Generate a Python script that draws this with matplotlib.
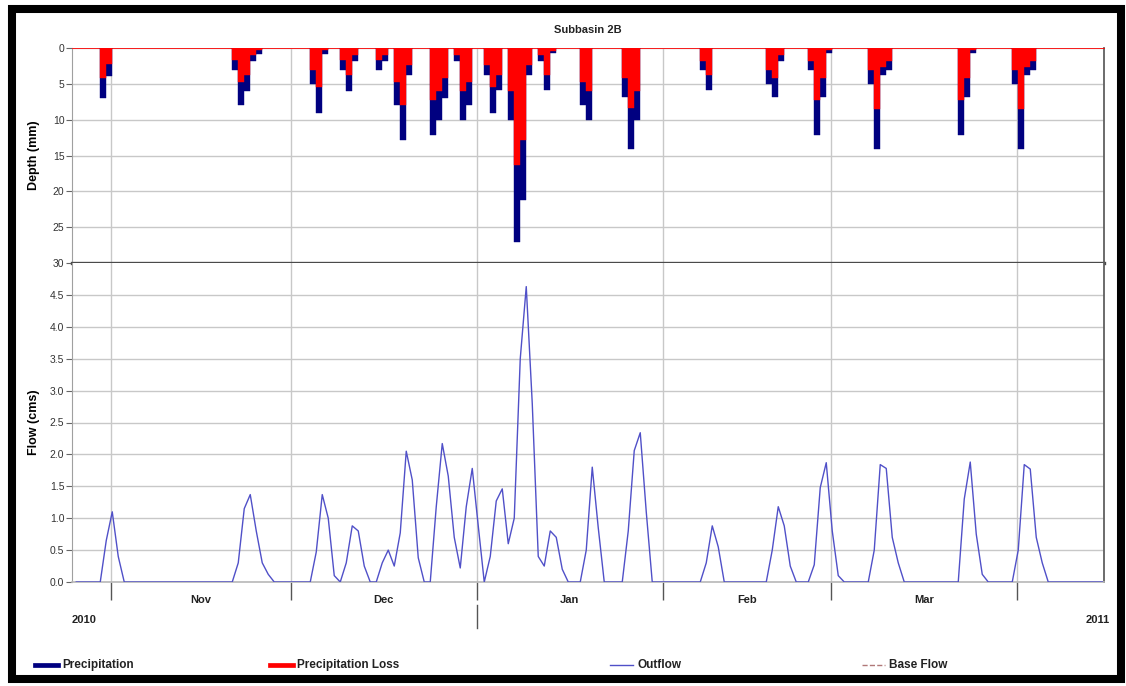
import matplotlib.pyplot as plt
import matplotlib.dates as mdates
import matplotlib.transforms as mtransforms
from matplotlib.lines import Line2D
from matplotlib.patches import Rectangle
import pandas as pd

plt.rcParams['font.family'] = ['Liberation Sans', 'DejaVu Sans']

W, H = 1126, 686

# осадки: номер дня после 1 ноября 2010 (конец суточного интервала), мм
precip_day = [-1, 0, 21, 22, 23, 24, 25, 34, 35, 36, 39, 40, 41, 45, 46,
              48, 49, 50, 54, 55, 56, 58, 59, 60, 63, 64, 65, 67, 68, 69, 70,
              72, 73, 74, 79, 80, 86, 87, 88, 99, 100, 110, 111, 112,
              117, 118, 119, 120, 127, 128, 129, 130, 142, 143, 144,
              151, 152, 153, 154]
precip_mm = [7.0, 3.9, 3.0, 8.0, 6.0, 1.8, 0.8, 5.0, 9.0, 0.8, 3.0, 6.0, 1.8, 3.0, 1.8,
             7.9, 12.9, 3.8, 12.2, 10.0, 7.0, 1.8, 10.0, 7.9, 3.8, 9.0, 5.9, 10.0, 27.0, 21.2, 3.8,
             1.8, 5.9, 0.75, 7.9, 10.0, 6.9, 14.1, 10.0, 3.0, 5.9, 5.0, 6.9, 1.8,
             3.0, 12.1, 6.9, 0.7, 5.0, 14.1, 3.8, 3.0, 12.1, 6.9, 0.7,
             5.0, 14.1, 3.8, 3.0]
loss_mm = [4.2, 2.3, 1.7, 4.8, 3.7, 1.0, 0.3, 3.0, 5.4, 0.3, 1.7, 3.7, 1.0, 1.7, 1.0,
           4.8, 7.9, 2.4, 7.3, 6.0, 4.2, 1.0, 6.0, 4.8, 2.4, 5.5, 3.8, 6.0, 16.3, 12.8, 2.4,
           1.0, 3.8, 0.4, 4.8, 6.0, 4.2, 8.4, 6.0, 1.8, 3.7, 3.1, 4.2, 1.0,
           1.8, 7.3, 4.2, 0.3, 3.1, 8.5, 2.6, 1.8, 7.3, 4.2, 0.3,
           3.1, 8.5, 2.6, 1.8]

# расход на выходе, м³/с, по суткам начиная с 26.10.2010 06:00
flow_start = '2010-10-26 06:00'
flow_cms = [
    0, 0, 0, 0, 0, 0.65, 1.1, 0.4, 0, 0,
    0, 0, 0, 0, 0, 0, 0, 0, 0, 0,
    0, 0, 0, 0, 0, 0, 0, 0.3, 1.15, 1.37,
    0.8, 0.3, 0.12, 0, 0, 0, 0, 0, 0, 0,
    0.47, 1.37, 1.0, 0.1, 0, 0.3, 0.88, 0.8, 0.25, 0,
    0, 0.3, 0.5, 0.25, 0.77, 2.05, 1.6, 0.38, 0, 0,
    1.18, 2.17, 1.66, 0.7, 0.22, 1.18, 1.78, 0.88, 0, 0.4,
    1.27, 1.46, 0.6, 1.0, 3.5, 4.63, 2.8, 0.4, 0.25, 0.8,
    0.7, 0.2, 0, 0, 0, 0.5, 1.8, 0.85, 0, 0,
    0, 0, 0.8, 2.06, 2.34, 1.1, 0, 0, 0, 0,
    0, 0, 0, 0, 0, 0.3, 0.88, 0.55, 0, 0,
    0, 0, 0, 0, 0, 0, 0.5, 1.18, 0.88, 0.25,
    0, 0, 0, 0.27, 1.48, 1.87, 0.8, 0.1, 0, 0,
    0, 0, 0, 0.5, 1.84, 1.78, 0.7, 0.3, 0, 0,
    0, 0, 0, 0, 0, 0, 0, 0, 1.3, 1.88,
    0.75, 0.12, 0, 0, 0, 0, 0, 0.5, 1.84, 1.77,
    0.7, 0.3, 0, 0, 0, 0, 0, 0, 0, 0,
    0, 0,
]
base_flow_cms = [0.0] * len(flow_cms)

months = ['Nov', 'Dec', 'Jan', 'Feb', 'Mar']
month_starts = pd.date_range('2010-11-01', '2011-04-01', freq='MS')
x_from, x_to = '2010-10-25 13:00', '2011-04-15 13:00'

# время
t0 = pd.Timestamp('2010-11-01 06:00')
bar_end = mdates.date2num([t0 + pd.Timedelta(days=d) for d in precip_day])
bar_left = bar_end - 1
flow_t = mdates.date2num(pd.date_range(flow_start, periods=len(flow_cms), freq='D'))
ms = mdates.date2num(month_starts)

# фигура
fig = plt.figure(figsize=(W / 100, H / 100), dpi=100)
L, R = 72 / W, 1104 / W
ax1 = fig.add_axes([L, 1 - 263 / H, R - L, 215 / H])
ax2 = fig.add_axes([L, 1 - 582 / H, R - L, 319 / H], sharex=ax1)

c_prec, c_loss, c_out, c_base = '#000080', '#ff0000', '#5050c8', '#b07878'

ax1.bar(bar_left, precip_mm, width=1, align='edge', color=c_prec,
        edgecolor=c_prec, linewidth=0.3, zorder=3)
ax1.bar(bar_left, loss_mm, width=1, align='edge', color=c_loss,
        edgecolor=c_loss, linewidth=0.3, zorder=4)
ax1.set_ylim(30, 0)
ax1.set_yticks(range(0, 31, 5))

ax2.plot(flow_t, base_flow_cms, color=c_base, lw=0.6, ls='--', zorder=1)
ax2.plot(flow_t, flow_cms, color=c_out, lw=1.0, zorder=3)
ax2.set_ylim(0, 5)
ax2.set_yticks([i * 0.5 for i in range(10)])
ax2.set_yticklabels([f'{i * 0.5:.1f}' for i in range(10)])

ax1.set_xlim(mdates.date2num(pd.Timestamp(x_from)), mdates.date2num(pd.Timestamp(x_to)))
ax2.set_xticks(ms)

for ax in (ax1, ax2):
    ax.set_axisbelow(True)
    ax.grid(True, color='#c8c8c8', lw=1.0)
    ax.tick_params(axis='y', labelsize=7.5, labelcolor='#333', color='#666',
                   length=4, width=0.8, pad=1.5)
    ax.spines['left'].set_color('#a0a0a0')
    ax.spines['right'].set_color('#606060')
    ax.spines['right'].set_linewidth(1.3)

ax1.tick_params(axis='x', length=0, labelbottom=False)
ax1.spines['top'].set_color(c_loss)
ax1.spines['top'].set_linewidth(0.6)
ax1.spines['bottom'].set_color('#4a4a4a')
ax1.spines['bottom'].set_linewidth(2.4)
ax2.spines['top'].set_visible(False)
ax2.spines['bottom'].set_color('#b8b8b8')
ax2.spines['bottom'].set_linewidth(1.2)
ax2.tick_params(axis='x', length=13, width=1, color='#555', labelbottom=False)

ax1.set_ylabel('Depth (mm)', fontsize=9, fontweight='bold')
ax2.set_ylabel('Flow (cms)', fontsize=9, fontweight='bold')
ax1.yaxis.set_label_coords(-32 / 1032, 0.5)
ax2.yaxis.set_label_coords(-32 / 1032, 0.5)

# подписи месяцев и лет
tr = mtransforms.blended_transform_factory(ax2.transData, ax2.transAxes)
for i, m in enumerate(months):
    ax2.text((ms[i] + ms[i + 1]) / 2, -18 / 319, m, transform=tr, ha='center',
             va='center', fontsize=8, fontweight='bold', color='#222')
jan = mdates.date2num(pd.Timestamp('2011-01-01'))
ax2.add_line(Line2D([jan, jan], [-23 / 319, -46 / 319], transform=tr,
                    color='#555', lw=1, clip_on=False))
ax2.text(0.0, -38 / 319, '2010', transform=ax2.transAxes, ha='left', va='center',
         fontsize=8, fontweight='bold', color='#222')
ax2.text(1.006, -38 / 319, '2011', transform=ax2.transAxes, ha='right', va='center',
         fontsize=8, fontweight='bold', color='#222')

fig.text(588 / W, 1 - 30 / H, 'Subbasin 2B', ha='center', va='center',
         fontsize=8, fontweight='bold', color='#222')

# легенда
ly = 1 - 665 / H
legend_items = [('Precipitation', c_prec, '-', 3.4, 35),
                ('Precipitation Loss', c_loss, '-', 3.4, 270),
                ('Outflow', c_out, '-', 1.0, 610),
                ('Base Flow', c_base, '--', 1.0, 862)]
for name, col, ls, lw, x0 in legend_items:
    fig.add_artist(Line2D([x0 / W, (x0 + 23) / W], [ly, ly], color=col, ls=ls, lw=lw))
    fig.text((x0 + 27) / W, ly, name, ha='left', va='center', fontsize=8.5,
             fontweight='bold', color='#222')

# рамка
fig.add_artist(Rectangle((12 / W, 1 - 679 / H), 1109 / W, 670 / H, fill=False,
                         edgecolor='black', lw=5.8, transform=fig.transFigure))

fig.savefig('out.png', dpi=100)
